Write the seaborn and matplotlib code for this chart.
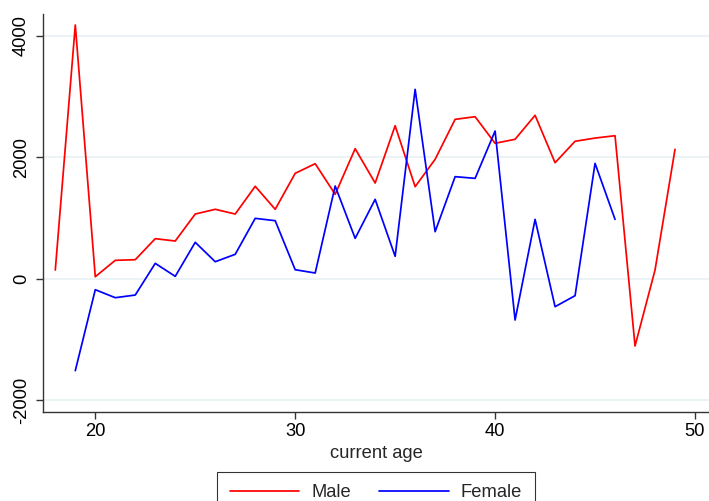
import matplotlib
matplotlib.use("Agg")
import matplotlib.pyplot as plt
import seaborn as sns
import pandas as pd
import numpy as np

male_age = list(range(18, 50))
male_val = [143, 4182, 33, 303, 313, 660, 621, 1066, 1144, 1066, 1523, 1144,
            1737, 1896, 1391, 2143, 1577, 2522, 1517, 1968, 2627, 2670, 2232,
            2298, 2693, 1912, 2265, 2318, 2357, -1109, 143, 2133]
female_age = list(range(19, 47))
female_val = [-1516, -181, -313, -269, 253, 39, 600, 280, 402, 995, 956, 148,
              94, 1528, 665, 1308, 369, 3121, 775, 1682, 1654, 2434, -681, 978,
              -461, -280, 1901, 978]
series_names = ["Male", "Female"]
x_ticks = [20, 30, 40, 50]
y_ticks = [-2000, 0, 2000, 4000]

df = pd.concat([
    pd.DataFrame({"age": male_age, "value": male_val, "sex": series_names[0]}),
    pd.DataFrame({"age": female_age, "value": female_val, "sex": series_names[1]}),
])

sns.set_style("white")
plt.rcParams["font.family"] = ["Liberation Sans", "DejaVu Sans"]
FS = 13.2

fig = plt.figure(figsize=(7.09, 5.01), dpi=100)
ax = fig.add_axes([43.3 / 709, 1 - 411.7 / 501, (709 - 43.3) / 709, (411.7 - 14) / 501])

sns.lineplot(data=df, x="age", y="value", hue="sex",
             palette={"Male": "#ff0000", "Female": "#0000ff"},
             linewidth=1.25, ax=ax, legend=True, zorder=3)

ax.set_xlim(17.4, 50.7)
ax.set_ylim(-2192, 4363)
ax.set_xticks(x_ticks)
ax.set_yticks(y_ticks)
ax.set_xticklabels([str(t) for t in x_ticks], fontsize=FS)
ax.set_yticklabels([str(t) for t in y_ticks], fontsize=FS, rotation=90, va="center")
ax.set_xlabel("current age", fontsize=FS, labelpad=3.5)
ax.set_ylabel("")

ax.grid(axis="y", color="#eaf2f3", linewidth=1.3, zorder=0)
ax.grid(axis="x", visible=False)
for s in ["top", "right"]:
    ax.spines[s].set_visible(False)
for s in ["left", "bottom"]:
    ax.spines[s].set_color("#333333")
    ax.spines[s].set_linewidth(1.0)
ax.tick_params(axis="both", direction="out", length=5, width=1.0, color="#333333",
               labelcolor="black")
ax.tick_params(axis="x", bottom=True, pad=3)
ax.tick_params(axis="y", left=True, pad=4.5)

handles, labels = ax.get_legend_handles_labels()
ax.legend_.remove()
leg = fig.legend(handles, labels, loc="upper center", bbox_to_anchor=(376 / 709, 1 - 472 / 501),
                 ncol=2, frameon=True, fancybox=False, fontsize=FS, handlelength=3.8,
                 columnspacing=1.55, borderpad=0.68, handletextpad=0.65, borderaxespad=0)
leg.get_frame().set_edgecolor("black")
leg.get_frame().set_linewidth(0.8)

fig.savefig("out.png", dpi=100)
